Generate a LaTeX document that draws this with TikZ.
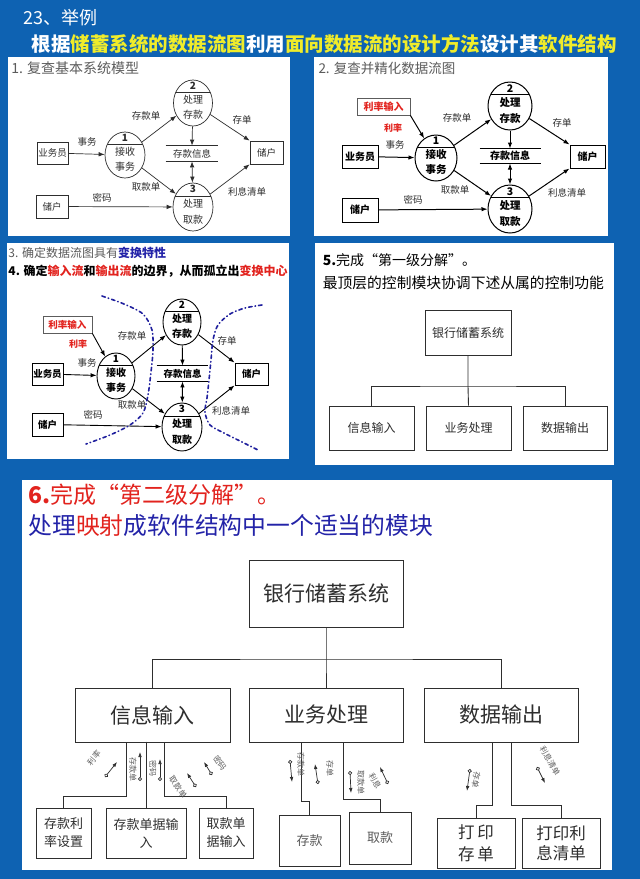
\documentclass[tikz,border=0pt]{standalone}
\usepackage{fontspec}
\setmainfont{Noto Sans CJK SC}
\usetikzlibrary{arrows.meta,shapes.geometric,calc}

\definecolor{slideblue}{HTML}{0E62B2}
\definecolor{headyellow}{HTML}{F0EC2A}
\definecolor{hotred}{HTML}{E2231E}
\definecolor{deepblue}{HTML}{2323A8}
\definecolor{dotblue}{HTML}{20209E}
\definecolor{ink}{HTML}{2E2E2E}
\definecolor{mutedink}{HTML}{5C5C5C}

\newcommand{\fs}[2]{\fontsize{#1}{#2}\selectfont}

% process bubble: name, x, y, x radius, y radius, number, upper word, lower word
\newcommand{\bubble}[8]{%
  \node[proc, minimum width=2*#4, minimum height=2*#5] (#1) at (#2,#3) {};
  \begin{scope}
    \clip (#2,#3) ellipse [x radius=#4, y radius=#5];
    \draw (#2-#4,#3-0.46*#5) -- (#2+#4,#3-0.46*#5);
  \end{scope}
  \node[bubblenum] at (#2,#3-0.74*#5) {#6};
  \node[bubbletext] at (#2,#3-0.13*#5) {#7};
  \node[bubbletext] at (#2,#3+0.52*#5) {#8};
}
% data store: name, x, y, width, height, caption
\newcommand{\datastore}[6]{%
  \node[storetext, minimum width=#4, minimum height=#5] (#1) at (#2,#3) {#6};
  \draw (#1.north west) -- (#1.north east) (#1.south west) -- (#1.south east);
}

\tikzset{
  proc/.style={draw, ellipse, inner sep=0pt},
  ent/.style={draw, inner sep=0pt},
  flow/.style={-{Latex[length=6pt,width=4.5pt]}},
  lab/.style={inner sep=0pt},
  tree/.style={draw=ink, line width=1pt},
  modbox/.style={draw=ink, line width=1pt, inner sep=0pt, text=ink, align=center},
  boundary/.style={dotblue, line width=1.6pt, line cap=round,
    dash pattern=on 3.5pt off 3pt on 0.6pt off 3pt},
  couple/.style={{Circle[open,length=4pt,width=4pt]}-{Latex[length=5pt,width=3.6pt]},
    line width=0.7pt, ink},
  coupletext/.style={inner sep=0pt, text=mutedink, font=\fs{8}{8}},
}

\begin{document}
\begin{tikzpicture}[x=1pt,y=-1pt]
\useasboundingbox (0,0) rectangle (640,879);
\fill[slideblue] (0,0) rectangle (640,879);

% ---------------- heading ----------------
\node[anchor=west, text=white, font=\fs{18}{18}] at (20,18) {23、举例};
\node[anchor=west, text=white, font=\fs{19.5}{20}\bfseries] (head) at (28,44)
  {根据\textcolor{headyellow}{储蓄系统的数据流图}利用\textcolor{headyellow}{面向数据流的设计方法}设计其\textcolor{headyellow}{软件结构}};

% ---------------- panel backgrounds ----------------
\fill[white] (8,57) rectangle (290,236);
\fill[white] (314,57) rectangle (608,236);
\fill[white] (7,243) rectangle (289,459);
\fill[white] (315,243) rectangle (614,465);
\fill[white] (22,480) rectangle (612,870);

% ---------------- panel 1: basic model ----------------
\begin{scope}[ink, line width=0.7pt,
  bubbletext/.style={lab, text=ink, font=\fs{10}{10}},
  bubblenum/.style={lab, text=ink, font=\fs{10}{10}\bfseries},
  storetext/.style={lab, text=ink, font=\fs{9.5}{10}},
  ent/.append style={text=ink, font=\fs{9.5}{10}},
  lab/.append style={text=ink, font=\fs{9.5}{10}}]
  \node[anchor=west, lab, text=mutedink, font=\fs{14}{14}] at (11,68) {1. 复查基本系统模型};
  \bubble{pa1}{125}{155}{20}{23}{1}{接收}{事务}
  \bubble{pa2}{193}{103}{19.5}{23}{2}{处理}{存款}
  \bubble{pa3}{193}{207}{20}{24}{3}{处理}{取款}
  \node[ent, minimum width=31, minimum height=22] (aA) at (52.5,153) {业务员};
  \node[ent, minimum width=32, minimum height=23] (aL) at (52,206.5) {储户};
  \node[ent, minimum width=33, minimum height=23] (aR) at (266.5,152.5) {储户};
  \datastore{aS}{192}{153.5}{52}{15}{存款信息}
  \draw[flow] (aA) -- (pa1);
  \draw[flow] (pa1) -- (pa2);
  \draw[flow] (pa1) -- (pa3);
  \draw[flow] (pa2) -- (aS.north);
  \draw[{Latex[length=6pt,width=4.5pt]}-{Latex[length=6pt,width=4.5pt]}] (aS.south) -- (pa3);
  \draw[flow] (pa2) -- (aR.north west);
  \draw[flow] (pa3) -- (aR.south west);
  \draw[flow] (aL) -- (pa3);
  \node[lab] at (87,142) {事务};
  \node[lab] at (146,116) {存款单};
  \node[lab] at (146,187) {取款单};
  \node[lab] at (242,120) {存单};
  \node[lab] at (247,192) {利息清单};
  \node[lab] at (102,198) {密码};
\end{scope}

% ---------------- panel 2: refined flow graph ----------------
\begin{scope}[black, line width=1pt,
  bubbletext/.style={lab, text=black, font=\fs{10.5}{11}\bfseries},
  bubblenum/.style={lab, text=black, font=\fs{10.5}{11}\bfseries},
  storetext/.style={lab, text=black, font=\fs{10}{10}\bfseries},
  ent/.append style={text=black, font=\fs{10}{10}\bfseries},
  lab/.append style={text=ink, font=\fs{9.5}{10}}]
  \node[anchor=west, lab, text=mutedink, font=\fs{13.5}{14}] at (318,68) {2. 复查并精化数据流图};
  \bubble{pb1}{436}{158}{21}{23}{1}{接收}{事务}
  \bubble{pb2}{510}{106}{22}{24}{2}{处理}{存款}
  \bubble{pb3}{510}{209}{22}{24}{3}{处理}{取款}
  \node[ent, draw=mutedink, line width=0.7pt, minimum width=53, minimum height=17, text=hotred]
    (bI) at (383.5,106.5) {利率输入};
  \node[ent, minimum width=36, minimum height=23] (bA) at (360,156.5) {业务员};
  \node[ent, minimum width=36, minimum height=24] (bL) at (360,210) {储户};
  \node[ent, minimum width=35, minimum height=23] (bR) at (587.5,156.5) {储户};
  \datastore{bS}{510}{156}{60}{14}{存款信息}
  \draw[flow] (bI.south east) -- (pb1);
  \draw[flow] (bA) -- (pb1);
  \draw[flow] (pb1) -- (pb2);
  \draw[flow] (pb1) -- (pb3);
  \draw[flow] (pb2) -- (bS.north);
  \draw[{Latex[length=6pt,width=4.5pt]}-{Latex[length=6pt,width=4.5pt]}] (bS.south) -- (pb3);
  \draw[flow] (pb2) -- (bR.north west);
  \draw[flow] (pb3) -- (bR.south west);
  \draw[flow] (bL) -- (pb3);
  \node[lab, text=hotred, font=\fs{9}{9}\bfseries] at (393,128) {利率};
  \node[lab] at (395,145) {事务};
  \node[lab] at (457,118) {存款单};
  \node[lab] at (455,190) {取款单};
  \node[lab] at (562,123) {存单};
  \node[lab] at (567,193) {利息清单};
  \node[lab] at (413,200) {密码};
\end{scope}

% ---------------- panel 3: transform centre ----------------
\begin{scope}[black, line width=0.9pt,
  bubbletext/.style={lab, text=black, font=\fs{10}{10}\bfseries},
  bubblenum/.style={lab, text=black, font=\fs{10}{10}\bfseries},
  storetext/.style={lab, text=black, font=\fs{9.5}{10}\bfseries},
  ent/.append style={text=black, font=\fs{9.5}{10}\bfseries},
  lab/.append style={text=ink, font=\fs{9.5}{10}}]
  \node[anchor=west, lab, text=mutedink, font=\fs{12}{12}] at (8,253)
    {3. 确定数据流图具有\textcolor{deepblue}{\bfseries 变换特性}};
  \node[anchor=west, lab, text=black, font=\fs{12}{12}\bfseries] at (8,271)
    {4. 确定\textcolor{hotred}{输入流}和\textcolor{hotred}{输出流}的边界，从而孤立出\textcolor{hotred}{变换中心}};
  \bubble{pc1}{116}{376}{19}{23}{1}{接收}{事务}
  \bubble{pc2}{182}{322}{19}{23}{2}{处理}{存款}
  \bubble{pc3}{182}{427}{20}{24}{3}{处理}{取款}
  \node[ent, draw=mutedink, line width=0.7pt, minimum width=49, minimum height=17, text=hotred]
    (cI) at (67.5,324.5) {利率输入};
  \node[ent, minimum width=31, minimum height=22] (cA) at (47.5,374) {业务员};
  \node[ent, minimum width=31, minimum height=23] (cL) at (47.5,424.5) {储户};
  \node[ent, minimum width=33, minimum height=22] (cR) at (251.5,374) {储户};
  \datastore{cS}{182.5}{373.5}{51}{15}{存款信息}
  \draw[flow] (cI.south east) -- (pc1);
  \draw[flow] (cA) -- (pc1);
  \draw[flow] (pc1) -- (pc2);
  \draw[flow] (pc1) -- (pc3);
  \draw[flow] (pc2) -- (cS.north);
  \draw[{Latex[length=6pt,width=4.5pt]}-{Latex[length=6pt,width=4.5pt]}] (cS.south) -- (pc3);
  \draw[flow] (pc2) -- (cR.north west);
  \draw[flow] (pc3) -- (cR.south west);
  \draw[flow] (cL) -- (pc3);
  \node[lab, text=hotred, font=\fs{9}{9}\bfseries] at (78,344) {利率};
  \node[lab] at (87,363) {事务};
  \node[lab] at (132,336) {存款单};
  \node[lab] at (132,405) {取款单};
  \node[lab] at (227,341) {存单};
  \node[lab] at (231,411) {利息清单};
  \node[lab] at (93,415) {密码};
  % boundaries of the input and output flows
  \draw[boundary] plot[smooth] coordinates {(102,296) (124,304) (143,314) (152,330) (153,350)
    (151,372) (148,395) (143,413) (130,425) (110,435) (86,444)};
  \draw[boundary] plot[smooth] coordinates {(262,305) (245,308) (230,314) (218,325) (213,340)
    (211,360) (209,380) (207,398) (205,412) (210,425) (224,433) (240,441) (258,450)};
\end{scope}

% ---------------- panel 5: first-level decomposition ----------------
\begin{scope}[line width=0.9pt, draw=ink]
  \node[anchor=west, text=black, font=\fs{14}{14}] at (319,260) {\textbf{5.}完成“第一级分解”。};
  \node[anchor=west, text=black, font=\fs{14.8}{15}] at (319,283) {最顶层的控制模块协调下述从属的控制功能};
  \node[modbox, line width=0.9pt, minimum width=86, minimum height=45, font=\fs{12}{12}] (f0) at (468,332.5) {银行储蓄系统};
  \node[modbox, line width=0.9pt, minimum width=85, minimum height=44, font=\fs{12}{12}] (f1) at (371.5,428) {信息输入};
  \node[modbox, line width=0.9pt, minimum width=85, minimum height=44, font=\fs{12}{12}] (f2) at (468.5,428) {业务处理};
  \node[modbox, line width=0.9pt, minimum width=84, minimum height=44, font=\fs{12}{12}] (f3) at (565,428) {数据输出};
  \coordinate (fj) at (468,386);
  \draw[tree, line width=0.9pt] (f0.south) -- (fj) -- (f2.north);
  \draw[tree, line width=0.9pt] (f1.north) |- (fj) -| (f3.north);
\end{scope}

% ---------------- panel 6: second-level decomposition ----------------
\node[anchor=west, text=hotred, font=\fs{23}{24}] at (25,495) {\textbf{6.}完成“第二级分解”。};
\node[anchor=west, text=deepblue, font=\fs{23.8}{25}] at (25,525)
  {处理\textcolor{hotred}{映射}成软件结构中一个适当的模块};

\node[modbox, minimum width=154, minimum height=67, font=\fs{21}{21}] (g0) at (326,593.5) {银行储蓄系统};
\node[modbox, minimum width=155, minimum height=54, font=\fs{21}{21}] (g1) at (152.5,715) {信息输入};
\node[modbox, minimum width=154, minimum height=54, font=\fs{21}{21}] (g2) at (326,715) {业务处理};
\node[modbox, minimum width=154, minimum height=54, font=\fs{21}{21}] (g3) at (501,715) {数据输出};
\coordinate (gj) at (326,659);
\draw[tree] (g0.south) -- (gj) -- (g2.north);
\draw[tree] (g1.north) |- (gj) -| (g3.north);

\node[modbox, minimum width=55, minimum height=50, font=\fs{13}{18}] (h1) at (63.5,833) {存款利\\率设置};
\node[modbox, minimum width=80, minimum height=50, font=\fs{13}{18}] (h2) at (146,833) {存款单据输\\入};
\node[modbox, minimum width=54, minimum height=50, font=\fs{13}{18}] (h3) at (226,833) {取款单\\据输入};
\node[modbox, minimum width=61, minimum height=51, font=\fs{13}{18}, text=mutedink] (h4) at (309.5,840.5) {存款};
\node[modbox, minimum width=62, minimum height=52, font=\fs{13}{18}, text=mutedink] (h5) at (380,838) {取款};
\node[modbox, minimum width=78, minimum height=50, font=\fs{16.5}{22}] (h6) at (476,843) {打\,印\\存\,单};
\node[modbox, minimum width=78, minimum height=50, font=\fs{16.5}{20}] (h7) at (561,843) {打印利\\息清单};

\draw[tree] ($(g1.south)+(-26.5,0)$) |- ($(h1.north)+(0,-11)$) -- (h1.north);
\draw[tree] ($(h2.north)+(0,-66)$) -- (h2.north);
\draw[tree] ($(g1.south)+(11.5,0)$) |- ($(h3.north)+(0,-11)$) -- (h3.north);
\draw[tree] ($(g2.south)+(-25,0)$) |- ($(h4.north)+(0,-13)$) -- (h4.north);
\draw[tree] ($(g2.south)+(17,0)$) |- ($(h5.north)+(0,-12)$) -- (h5.north);
\draw[tree] ($(g3.south)+(-9,0)$) |- ($(h6.north)+(0,-12)$) -- (h6.north);
\draw[tree] ($(g3.south)+(10,0)$) |- ($(h7.north)+(0,-12)$) -- (h7.north);

% data couples on the calls
\draw[couple] (105,777) -- (117,762);
\node[coupletext, rotate=50] at (94,758) {利率};
\draw[couple] (140,781) -- (140,752);
\node[coupletext, rotate=-90] at (133,769) {存款单};
\draw[couple] (160,781) -- (160,759);
\node[coupletext, rotate=-90] at (153,768) {密码};
\draw[couple] (196,787) -- (187,773);
\node[coupletext, rotate=-55] at (178,787) {取款单};
\draw[couple] (212,775) -- (204,762);
\node[coupletext, rotate=-55] at (220,763) {密码};

\draw[couple] (290,760) -- (292,782);
\node[coupletext, rotate=-90] at (301,764) {存款单};
\draw[couple] (318,784) -- (315,764);
\node[coupletext, rotate=-90] at (330,768) {存单};
\draw[couple] (350,771) -- (351,793);
\node[coupletext, rotate=-90] at (361,782) {取款单};
\draw[couple] (388,784) -- (380,767);
\node[coupletext, rotate=-60] at (375,781) {利息};

\draw[couple] (470,769) -- (467,791);
\node[coupletext, rotate=-100] at (476,780) {存单};
\draw[couple] (537,767) -- (545,783);
\node[coupletext, rotate=-60] at (550,761) {利息清单};
\end{tikzpicture}
\end{document}
